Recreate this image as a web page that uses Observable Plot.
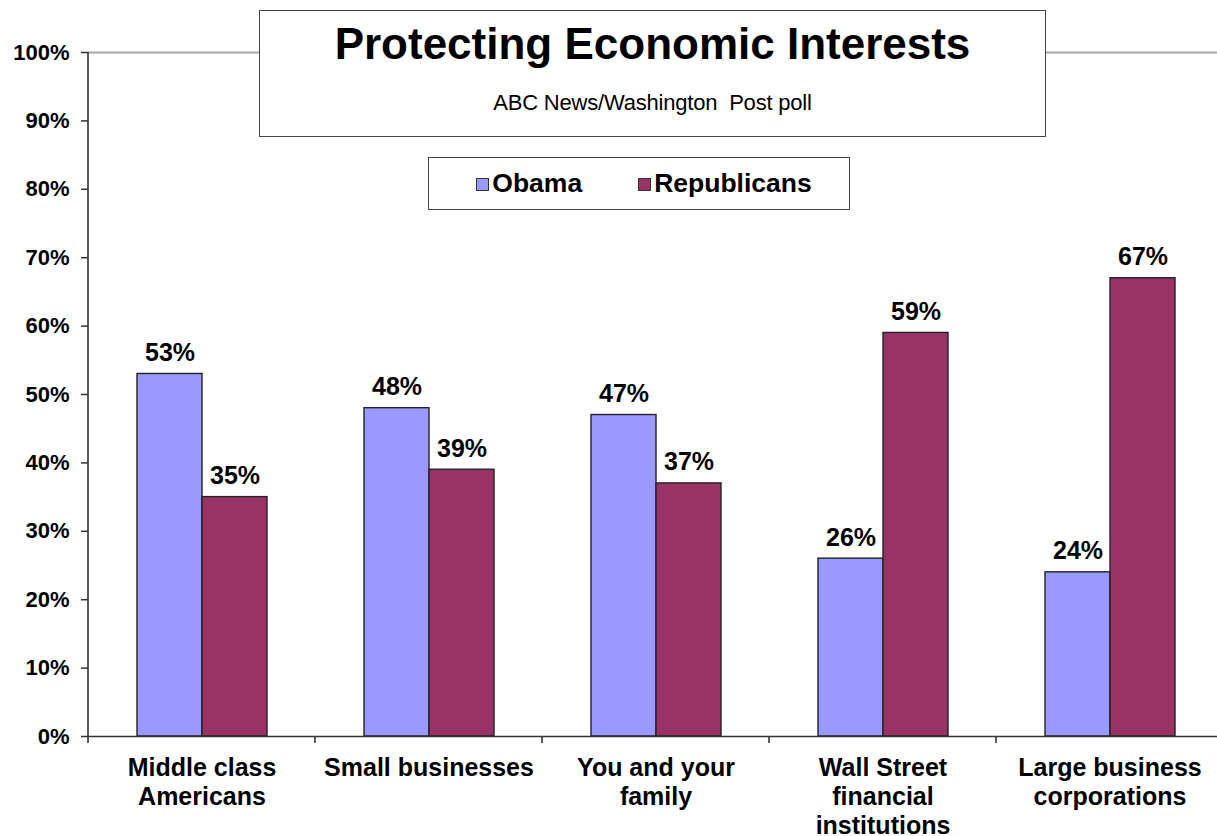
<!DOCTYPE html>
<html>
<head>
<meta charset="utf-8">
<script src="https://cdn.jsdelivr.net/npm/d3@7"></script>
<script src="https://cdn.jsdelivr.net/npm/@observablehq/plot@0.6"></script>
<style>
  html, body { margin: 0; padding: 0; background: #fff; overflow: hidden; }
  #wrap { position: relative; width: 1217px; height: 836px; overflow: hidden; font-family: "Liberation Sans", Arial, sans-serif; }
  #chart { position: absolute; left: 0; top: 0; width: 1223px; height: 836px; }
  #chart svg { max-width: none !important; }
  #titlebox { position: absolute; left: 259px; top: 10px; width: 787px; height: 127px; box-sizing: border-box; border: 1.5px solid #444; background: #fff; }
  #title { position: absolute; left: 0; right: 0; top: 11px; text-align: center; font-size: 44px; line-height: 44px; font-weight: bold; color: #000; }
  #subtitle { position: absolute; left: 0; right: 0; top: 81px; text-align: center; font-size: 22px; line-height: 22px; color: #000; white-space: pre; letter-spacing: -0.2px; }
  #legendbox { position: absolute; left: 428px; top: 157px; width: 422px; height: 53px; box-sizing: border-box; border: 1.5px solid #444; background: #fff; display: flex; justify-content: center; align-items: center; gap: 56px; padding-left: 10px; }
  .item { display: flex; align-items: center; font-size: 26.5px; font-weight: bold; color: #000; }
  .sw { width: 11px; height: 11px; border: 1px solid #333; margin-right: 3px; margin-top: 2px; }
</style>
</head>
<body>
<div id="wrap">
  <div id="chart"></div>
  <div id="titlebox"><div id="title"></div><div id="subtitle"></div></div>
  <div id="legendbox"></div>
</div>
<script>
const titleText = "Protecting Economic Interests";
const subtitleText = "ABC News/Washington  Post poll";
const categories = ["Middle class\nAmericans", "Small businesses", "You and your\nfamily", "Wall Street\nfinancial\ninstitutions", "Large business\ncorporations"];
const seriesNames = ["Obama", "Republicans"];
const obamaValues = [53, 48, 47, 26, 24];
const republicanValues = [35, 39, 37, 59, 67];
const seriesColors = ["#9999FF", "#993366"];
const yTicks = [0, 10, 20, 30, 40, 50, 60, 70, 80, 90, 100];

const rows = [];
categories.forEach((c, i) => {
  rows.push({category: c, series: seriesNames[0], value: obamaValues[i]});
  rows.push({category: c, series: seriesNames[1], value: republicanValues[i]});
});

document.getElementById("title").textContent = titleText;
document.getElementById("subtitle").textContent = subtitleText;
const legend = document.getElementById("legendbox");
seriesNames.forEach((s, i) => {
  const it = document.createElement("div");
  it.className = "item";
  const sw = document.createElement("span");
  sw.className = "sw";
  sw.style.background = seriesColors[i];
  const t = document.createElement("span");
  t.textContent = s;
  it.appendChild(sw); it.appendChild(t);
  legend.appendChild(it);
});

const chart = Plot.plot({
  width: 1223,
  height: 836,
  marginLeft: 88,
  marginRight: 0,
  marginTop: 52,
  marginBottom: 100,
  style: {fontFamily: "'Liberation Sans', Arial, sans-serif", fontWeight: "bold", background: "white", color: "#000", maxWidth: "none"},
  fx: {domain: categories, paddingInner: 0, paddingOuter: 0, label: null},
  x: {domain: seriesNames, paddingInner: 0, paddingOuter: 0.746, axis: null},
  y: {domain: [0, 100], label: null},
  color: {domain: seriesNames, range: seriesColors},
  marks: [
    Plot.ruleY([100], {stroke: "#a6a6a6", strokeWidth: 2}),
    Plot.barY(rows, {fx: "category", x: "series", y: "value", fill: "series", stroke: "#222", strokeWidth: 1.4}),
    Plot.text(rows, {fx: "category", x: "series", y: "value", text: d => d.value + "%", lineAnchor: "bottom", dy: -13, fontSize: 25, fontWeight: "bold", fill: "#000"}),
    Plot.ruleY([0], {stroke: "#333", strokeWidth: 1.6}),
    Plot.axisY({ticks: yTicks, tickFormat: d => d + "%", tickSize: 7, tickPadding: 12, fontSize: 22, fontWeight: "bold", label: null, stroke: "#333", strokeWidth: 1.5}),
    Plot.axisFx({tickSize: 0, tickPadding: 19, fontSize: 25, fontWeight: "bold", lineHeight: 1.16, label: null, anchor: "bottom"})
  ]
});
chart.style.maxWidth = "none";
document.getElementById("chart").appendChild(chart);

// y-axis line and category boundary ticks, positioned from the plot's own scales
const fx = chart.scale("fx");
const y = chart.scale("y");
const g = d3.select(chart).append("g").attr("stroke", "#333").attr("stroke-width", 1.6);
const x0 = fx.apply(categories[0]);
g.append("line").attr("x1", x0).attr("x2", x0).attr("y1", y.apply(100)).attr("y2", y.apply(0) + 7);
const bounds = categories.map(c => fx.apply(c)).concat([fx.apply(categories[categories.length - 1]) + fx.bandwidth]);
bounds.slice(1).forEach(b => {
  g.append("line").attr("x1", b).attr("x2", b).attr("y1", y.apply(0)).attr("y2", y.apply(0) + 7);
});
</script>
</body>
</html>
